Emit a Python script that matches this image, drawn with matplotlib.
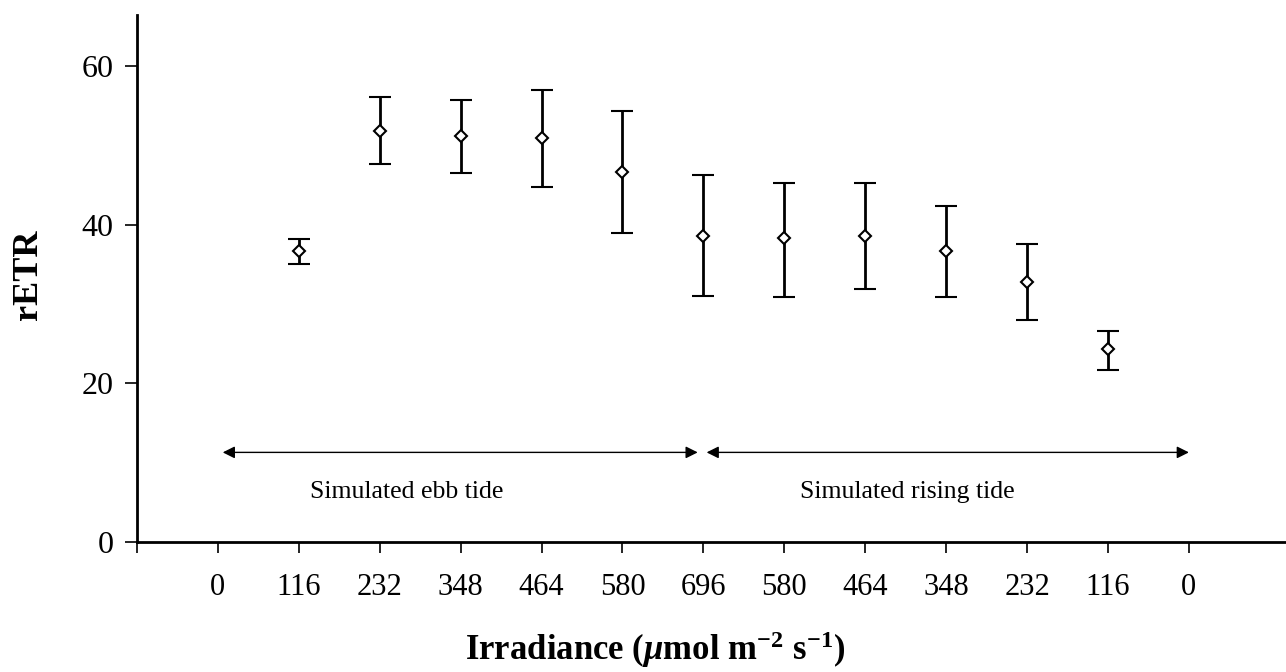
import numpy as np
import matplotlib
matplotlib.use("Agg")
import matplotlib.pyplot as plt

plt.rcParams['font.family'] = ['Liberation Serif', 'DejaVu Serif']
plt.rcParams['mathtext.fontset'] = 'custom'
plt.rcParams['mathtext.rm'] = 'Liberation Serif:bold'
plt.rcParams['mathtext.it'] = 'Liberation Serif:italic:bold'
plt.rcParams['mathtext.bf'] = 'Liberation Serif:bold'

# data
tick_labels = ['0', '116', '232', '348', '464', '580', '696',
               '580', '464', '348', '232', '116', '0']
pos = [1, 2, 3, 4, 5, 6, 7, 8, 9, 10, 11]
retr = [36.7, 51.9, 51.2, 50.9, 46.7, 38.6, 38.3, 38.6, 36.7, 32.8, 24.4]
err_hi = [38.2, 56.1, 55.7, 57.0, 54.4, 46.3, 45.3, 45.3, 42.4, 37.6, 26.6]
err_lo = [35.1, 47.7, 46.5, 44.8, 39.0, 31.0, 30.9, 31.9, 30.9, 28.0, 21.7]

yerr = [np.array(retr) - np.array(err_lo), np.array(err_hi) - np.array(retr)]

fig = plt.figure(figsize=(12.86, 6.72), dpi=100)
ax = fig.add_axes([0.1065, 0.1935, 0.8935, 0.7845])

ax.errorbar(pos, retr, yerr=yerr, fmt='D', color='black', mfc='white',
            mec='black', ms=6, mew=1.5, ecolor='black', elinewidth=2,
            capsize=8, capthick=2.5)

# tide arrows
arr = dict(arrowstyle='<|-|>', color='black', lw=1, mutation_scale=18,
           shrinkA=0, shrinkB=0)
ax.annotate('', xy=(0.06, 11.3), xytext=(5.93, 11.3), arrowprops=arr)
ax.annotate('', xy=(6.04, 11.3), xytext=(12.0, 11.3), arrowprops=arr)
ax.text(2.33, 6.3, 'Simulated ebb tide', ha='center', va='center', fontsize=18.5)
ax.text(8.52, 6.3, 'Simulated rising tide', ha='center', va='center', fontsize=18.5)

ax.set_xlim(-0.99, 13.2)
ax.set_ylim(0, 66.5)
ax.set_xticks([-1] + list(range(13)))
ax.set_xticklabels([''] + tick_labels)
ax.set_yticks([0, 20, 40, 60])

for s in ['top', 'right']:
    ax.spines[s].set_visible(False)
ax.spines['left'].set_linewidth(2)
ax.spines['bottom'].set_linewidth(2)
ax.tick_params(axis='x', direction='out', length=8, width=1.2, labelsize=22, pad=14)
ax.tick_params(axis='y', direction='out', length=9, width=1.2, labelsize=23, pad=8)

fig.text(0.022, 0.591, 'rETR', rotation=90, ha='center', va='center',
         fontsize=26, fontweight='bold')
fig.text(0.509, 0.033, r'Irradiance ($\mu$mol m$^{-2}$ s$^{-1}$)',
         ha='center', va='center', fontsize=25, fontweight='bold')

fig.savefig('out.png', dpi=100)
